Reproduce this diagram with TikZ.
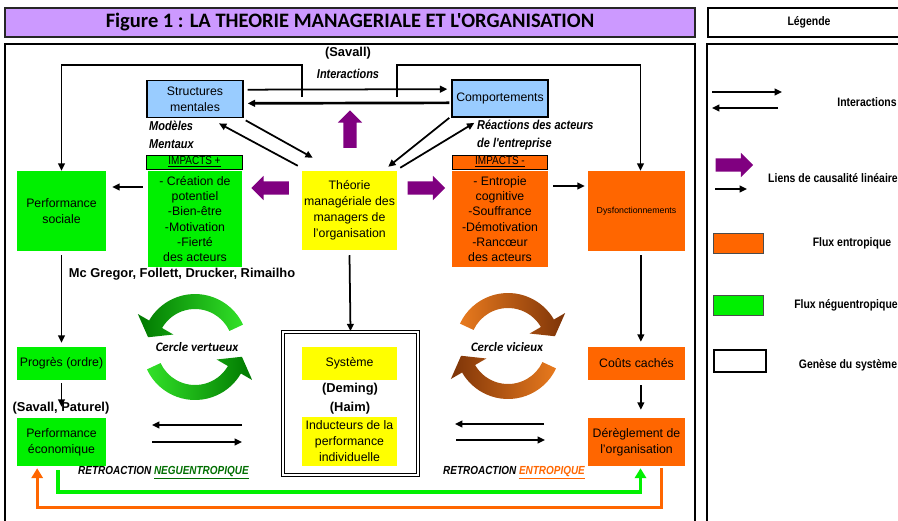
\documentclass[tikz,border=0pt]{standalone}
\usepackage{fontspec}
\setmainfont{Liberation Sans}
\newfontfamily\narrowfont[FakeStretch=0.85]{Liberation Sans}
\newfontfamily\titlefont{Carlito}
\usetikzlibrary{arrows.meta}
\usetikzlibrary{calc}
\usetikzlibrary{shapes.arrows}

\definecolor{lavande}{RGB}{204,153,255}
\definecolor{bleuclair}{RGB}{153,204,255}
\definecolor{vert}{RGB}{0,240,0}
\definecolor{orangec}{RGB}{255,102,0}
\definecolor{jaune}{RGB}{255,255,0}
\definecolor{pourpre}{RGB}{128,0,128}
\definecolor{vertfonce}{RGB}{0,110,0}
\definecolor{gclair}{RGB}{50,225,40}
\definecolor{gfonce}{RGB}{0,120,0}
\definecolor{oclair}{RGB}{232,122,30}
\definecolor{ofonce}{RGB}{125,52,8}

\begin{document}
\begin{tikzpicture}[x=0.03cm,y=-0.03cm,>={Triangle[length=0.22cm,width=0.2cm]},
		flow/.style={->,line width=1.5pt},
		flowb/.style={->,line width=2.3pt}]
		\tikzstyle{box}=[inner sep=1pt,align=center,font=\fontsize{10.5}{13.6}\selectfont]
		\tikzstyle{greenbox}=[box,fill=vert]
		\tikzstyle{orangebox}=[box,fill=orangec]
		\tikzstyle{yellowbox}=[box,fill=jaune]
		\tikzstyle{bluebox}=[box,fill=bleuclair,draw=black,line width=1.2pt,
			minimum width=2.88cm,minimum height=1.12cm]
		\tikzstyle{header}=[draw=black,line width=0.8pt,inner sep=0pt,
			minimum width=2.86cm,minimum height=0.42cm,font=\narrowfont\fontsize{10}{11}\selectfont]
		\tikzstyle{causal}=[single arrow,fill=pourpre,inner sep=0.195cm,minimum height=1.12cm,
			minimum width=0.72cm,single arrow head extend=0.165cm]
		\tikzstyle{lbl}=[inner sep=0pt,font=\bfseries\fontsize{11}{13}\selectfont]
		\tikzstyle{lblit}=[inner sep=0pt,align=left,font=\narrowfont\bfseries\itshape\fontsize{11}{15}\selectfont]
		\tikzstyle{legtxt}=[inner sep=0pt,font=\narrowfont\bfseries\fontsize{10.5}{12}\selectfont]
		
		\useasboundingbox (0,0) rectangle (898,520);
		
		% titre et cadres
		\node[draw=black!85,line width=1.3pt,fill=lavande,minimum width=20.7cm,minimum height=0.87cm,inner sep=0pt]
			(titre) at (350,22.5) {\titlefont\bfseries\fontsize{17.5}{19}\selectfont Figure 1 : LA THEORIE MANAGERIALE ET L'ORGANISATION};
		\node[draw=black,line width=1pt,minimum width=6.06cm,minimum height=0.87cm,inner sep=0pt]
			(legtitre) at (809,22.5) {\narrowfont\bfseries\fontsize{10.5}{12}\selectfont Légende};
		\draw[line width=1.3pt] (5,44) rectangle (695,530);
		\draw[line width=1pt] (707,44) rectangle (910,530);
		
		% noeuds
		\node[bluebox]  (Struct)  at (195,99)   {Structures\\mentales};
		\node[bluebox]  (Comport) at (500,98.5) {Comportements};
		\node[yellowbox,minimum width=2.85cm,minimum height=2.37cm] (Theo) at (349.5,210.5)
			{Théorie\\managériale des\\managers de\\l'organisation};
		\node[header,fill=vert]    (ImpP_h) at (194.5,162) {\underline{IMPACTS +}};
		\node[header,fill=orangec] (ImpN_h) at (500,162)   {\underline{IMPACTS -}};
		\node[greenbox,minimum width=2.82cm,minimum height=2.88cm,font=\fontsize{10.5}{13}\selectfont] (ImpP) at (195,219)
			{- Création de\\potentiel\\-Bien-être\\-Motivation\\-Fierté\\des acteurs};
		\node[orangebox,minimum width=2.88cm,minimum height=2.88cm,font=\fontsize{10.5}{13}\selectfont] (ImpN) at (500,219)
			{- Entropie\\cognitive\\-Souffrance\\-Démotivation\\-Rancœur\\des acteurs};
		\node[greenbox,minimum width=2.67cm,minimum height=2.4cm]  (P_soc) at (61.5,211)  {Performance\\sociale};
		\node[orangebox,minimum width=2.91cm,minimum height=2.4cm,font=\fontsize{7.5}{9}\selectfont] (Dysf) at (636.5,211) {Dysfonctionnements};
		\node[greenbox,minimum width=2.67cm,minimum height=0.99cm] (Prog)  at (61.5,363.5) {Progrès (ordre)};
		\node[greenbox,minimum width=2.67cm,minimum height=1.44cm] (P_eco) at (61.5,442)   {Performance\\économique};
		\node[draw=black,line width=1.1pt,double,double distance=1.3pt,minimum width=4.05cm,minimum height=4.3cm]
			(Syst_f) at (350.5,403.5) {};
		\node[yellowbox,minimum width=2.85cm,minimum height=0.99cm] (Syst) at (349.5,363.5) {Système};
		\node[yellowbox,minimum width=2.85cm,minimum height=1.47cm] (Induc) at (349.5,441.5)
			{Inducteurs de la\\performance\\individuelle};
		\node[orangebox,minimum width=2.91cm,minimum height=0.99cm] (Couts) at (636.5,363.5) {Coûts cachés};
		\node[orangebox,minimum width=2.91cm,minimum height=1.44cm] (Dereg) at (636.5,442)   {Dérèglement de\\l'organisation};
		
		% fleches de causalite
		\node[causal,shape border rotate=90]  (C_up)    at (350,132.5) {};
		\node[causal,shape border rotate=180] (C_left)  at (273.5,188) {};
		\node[causal]                         (C_right) at (423,188)   {};
		
		% interactions du haut
		\draw[flow]  ([yshift=0.28cm]Struct.east) ++(0.12cm,0) -- ([shift={(-0.12cm,0.28cm)}]Comport.west);
		\draw[flowb] ([shift={(-0.06cm,-0.13cm)}]Comport.west) -- ([shift={(0.12cm,-0.13cm)}]Struct.east);
		\coordinate (tapL) at (302,97);
		\coordinate (tapR) at (397,97);
		\draw[flow] (tapL) -- (302,65) -| (P_soc.north);
		\draw[flow] (tapR) -- (397,65) -| ([xshift=0.12cm]Dysf.north);
		\draw[flow] ([shift={(-0.12cm,0.15cm)}]Theo.north west) -- ([shift={(0.72cm,-0.15cm)}]Struct.south);
		\draw[flow] ([shift={(0.06cm,-0.06cm)}]Struct.south east) -- ([shift={(0.33cm,0.39cm)}]Theo.north west);
		\draw[flow] ([xshift=-0.06cm]Comport.south west) -- ([shift={(-0.27cm,0.12cm)}]Theo.north east);
		\draw[flow] ([shift={(0.09cm,0.09cm)}]Theo.north east) -- ([shift={(0.69cm,-0.15cm)}]Comport.south west);
		
		% liens lineaires
		\draw[flow] ([shift={(-0.15cm,0.96cm)}]ImpP.west) -- ([shift={(0.18cm,0.72cm)}]P_soc.east);
		\draw[flow] ([shift={(0.15cm,0.99cm)}]ImpN.east) -- ([shift={(-0.09cm,0.75cm)}]Dysf.west);
		\draw[flow] ([yshift=-0.12cm]P_soc.south) -- ([yshift=0.12cm]Prog.north);
		\draw[flow] ([yshift=-0.09cm]Prog.south) -- ([yshift=0.33cm]P_eco.north);
		\draw[flow] ([yshift=-0.15cm]Theo.south) -- (Syst_f.north);
		\draw[flow] ([shift={(0.13cm,-0.12cm)}]Dysf.south) -- ([shift={(0.13cm,0.15cm)}]Couts.north);
		\draw[flow] ([shift={(0.13cm,-0.15cm)}]Couts.south) -- ([shift={(0.13cm,0.24cm)}]Dereg.north);
		
		% interactions du bas
		\coordinate (iLa) at (242,425); \coordinate (iLb) at (152,425);
		\coordinate (iLc) at (152,442); \coordinate (iLd) at (242,442);
		\coordinate (iRa) at (544,424); \coordinate (iRb) at (455,424);
		\coordinate (iRc) at (456,440); \coordinate (iRd) at (545,440);
		\draw[flowb] (iLa) -- (iLb);
		\draw[flow]  (iLc) -- (iLd);
		\draw[flowb] (iRa) -- (iRb);
		\draw[flow]  (iRc) -- (iRd);
		
		% retroactions
		\draw[line width=3pt,draw=vert,-{Triangle[length=0.3cm,width=0.34cm]}]
			([shift={(-0.1cm,-0.12cm)}]P_eco.south) -- ++(0,22) -| ([shift={(0.12cm,-0.06cm)}]Dereg.south);
		\draw[line width=2.6pt,draw=orangec,-{Triangle[length=0.3cm,width=0.34cm]}]
			([shift={(0.74cm,-0.06cm)}]Dereg.south) -- ++(0,39) -| ([shift={(-0.73cm,-0.06cm)}]P_eco.south);
		
		% cercles
		\begin{scope}[shift={(195,347)},x=0.03cm,y=0.03cm]
			\shade[left color=gfonce,right color=gclair]
				(25:53) arc[start angle=25,end angle=150,radius=53] -- (150:66)
				-- ($(150:45.5)+(240:15)$) -- (150:25) -- (150:38) arc[start angle=150,end angle=25,radius=38] -- cycle;
			\shade[left color=gclair,right color=gfonce]
				(205:53) arc[start angle=205,end angle=330,radius=53] -- (330:66)
				-- ($(330:45.5)+(60:15)$) -- (330:25) -- (330:38) arc[start angle=330,end angle=205,radius=38] -- cycle;
		\end{scope}
		\begin{scope}[shift={(508,346)},x=0.03cm,y=0.03cm]
			\shade[left color=oclair,right color=ofonce]
				(155:53) arc[start angle=155,end angle=30,radius=53] -- (30:66)
				-- ($(30:45.5)+(-60:15)$) -- (30:25) -- (30:38) arc[start angle=30,end angle=155,radius=38] -- cycle;
			\shade[left color=ofonce,right color=oclair]
				(-25:53) arc[start angle=-25,end angle=-150,radius=53] -- (-150:66)
				-- ($(-150:45.5)+(120:15)$) -- (-150:25) -- (-150:38) arc[start angle=-150,end angle=-25,radius=38] -- cycle;
		\end{scope}
		\node[inner sep=0pt,font=\titlefont\bfseries\itshape\fontsize{11}{13}\selectfont] (c_vert) at (197,347) {Cercle vertueux};
		\node[inner sep=0pt,font=\titlefont\bfseries\itshape\fontsize{11}{13}\selectfont] (c_vic)  at (507,347) {Cercle vicieux};
		
		% textes
		\node[lbl]   (t_sav)  at (348,53)  {(Savall)};
		\node[lblit] (t_int)  at (348,74)  {Interactions};
		\node[lblit,anchor=west] (t_mod) at (149,135) {Modèles\\Mentaux};
		\node[lblit,anchor=west] (t_rea) at (477,135) {Réactions des acteurs\\de l'entreprise};
		\node[lbl]   (t_mcg)  at (182,274) {Mc Gregor, Follett, Drucker, Rimailho};
		\node[lbl]   (t_pat)  at (61,408)  {(Savall, Paturel)};
		\node[lbl]   (t_dem)  at (350,389) {(Deming)};
		\node[lbl]   (t_haim) at (350,408) {(Haim)};
		\node[lblit,anchor=west,font=\narrowfont\bfseries\itshape\fontsize{10}{12}\selectfont] (t_rn) at (78,473)
			{RETROACTION \textcolor{vertfonce}{\underline{NEGUENTROPIQUE}}};
		\node[lblit,anchor=west,font=\narrowfont\bfseries\itshape\fontsize{10}{12}\selectfont] (t_re) at (443,473)
			{RETROACTION \textcolor{orangec}{\underline{ENTROPIQUE}}};
		
		% legende
		\coordinate (lg1a) at (712,92);  \coordinate (lg1b) at (782,92);
		\coordinate (lg2a) at (778,108); \coordinate (lg2b) at (712,108);
		\coordinate (lg3a) at (715,189); \coordinate (lg3b) at (747,189);
		\draw[flow]  (lg1a) -- (lg1b);
		\draw[flowb] (lg2a) -- (lg2b);
		\node[causal] (lg_caus) at (731,165) {};
		\draw[flow]  (lg3a) -- (lg3b);
		\node[fill=orangec,draw=black!70,minimum width=1.5cm,minimum height=0.6cm] (lg_ent) at (738,243) {};
		\node[fill=vert,draw=black!70,minimum width=1.5cm,minimum height=0.6cm]    (lg_neg) at (738,305) {};
		\node[draw=black,line width=2.2pt,minimum width=1.55cm,minimum height=0.66cm] (lg_gen) at (740,361) {};
		\node[legtxt] (lt_int) at (867,102) {Interactions};
		\node[legtxt] (lt_cau) at (833,178) {Liens de causalité linéaire};
		\node[legtxt] (lt_ent) at (852,243) {Flux entropique};
		\node[legtxt] (lt_neg) at (846,305) {Flux néguentropique};
		\node[legtxt] (lt_gen) at (848,365) {Genèse du système};
\end{tikzpicture}
\end{document}
